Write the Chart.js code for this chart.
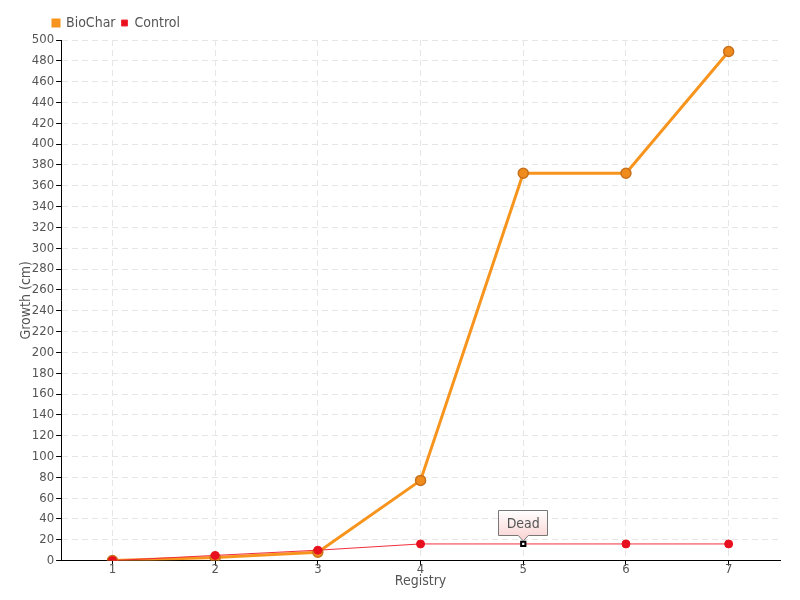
<!DOCTYPE html>
<html>
<head>
<meta charset="utf-8">
<script src="https://cdn.jsdelivr.net/npm/chart.js@4"></script>
<style>
  html, body { margin: 0; padding: 0; background: #fff; }
  #wrap { width: 800px; height: 600px; }
</style>
</head>
<body>
<div id="wrap"><canvas id="growthChart" width="800" height="600"></canvas></div>
<script>
const registry = ['1', '2', '3', '4', '5', '6', '7'];
const bioChar = [0, 3, 8, 77, 372, 372, 489];
const control = [0, 5, 10, 16, 16, 16, 16];
const deadIndex = 4;
const deadLabel = 'Dead';

const FONT = "'DejaVu Sans Condensed', 'Liberation Sans Narrow', sans-serif";
const TEXT = '#555';

// callout box over the control point where the plant died
const deadNote = {
    id: 'deadNote',
    afterDatasetsDraw(chart) {
        const meta = chart.getDatasetMeta(0);
        const pt = meta.data[deadIndex];
        if (!pt) return;
        const ctx = chart.ctx;
        const w = 50, h = 26;
        const x = Math.round(pt.x - w / 2), y = Math.round(pt.y - 8 - h);
        ctx.save();
        const g = ctx.createLinearGradient(0, y, 0, y + h);
        g.addColorStop(0, '#ffffff');
        g.addColorStop(1, '#fbd8d8');
        ctx.fillStyle = g;
        ctx.strokeStyle = '#777';
        ctx.lineWidth = 1;
        ctx.beginPath();
        ctx.moveTo(x + 0.5, y + 0.5);
        ctx.lineTo(x + w - 0.5, y + 0.5);
        ctx.lineTo(x + w - 0.5, y + h - 0.5);
        ctx.lineTo(pt.x + 5, y + h - 0.5);
        ctx.lineTo(pt.x, y + h + 5);
        ctx.lineTo(pt.x - 5, y + h - 0.5);
        ctx.lineTo(x + 0.5, y + h - 0.5);
        ctx.closePath();
        ctx.fill();
        ctx.stroke();
        ctx.fillStyle = TEXT;
        ctx.font = '14px ' + FONT;
        ctx.textAlign = 'center';
        ctx.textBaseline = 'middle';
        ctx.fillText(deadLabel, pt.x, y + h / 2 + 1);
        ctx.restore();
    }
};

// push the legend to the right so it starts near the y axis
const legendShift = {
    id: 'legendShift',
    afterLayout(chart) {
        if (chart.legend) {
            chart.legend.left += 34;
            chart.legend.right += 34;
        }
    }
};

const ctx = document.getElementById('growthChart').getContext('2d');
new Chart(ctx, {
    type: 'line',
    data: {
        labels: registry,
        datasets: [
            {
                label: 'Control',
                data: control,
                borderColor: '#f0303c',
                borderWidth: 1,
                backgroundColor: '#e8101f',
                pointBackgroundColor: control.map((v, i) => i === deadIndex ? '#fff' : '#e8101f'),
                pointBorderColor: control.map((v, i) => i === deadIndex ? '#000' : '#e8101f'),
                pointBorderWidth: control.map((v, i) => i === deadIndex ? 2 : 1),
                pointStyle: control.map((v, i) => i === deadIndex ? 'rect' : 'circle'),
                pointRadius: control.map((v, i) => i === deadIndex ? 3 : 4),
                tension: 0
            },
            {
                label: 'BioChar',
                data: bioChar,
                borderColor: '#f7941d',
                borderWidth: 3,
                backgroundColor: '#f7941d',
                pointBackgroundColor: '#f08c1e',
                pointBorderColor: '#c8701a',
                pointBorderWidth: 1.5,
                pointRadius: 5,
                tension: 0
            }
        ]
    },
    options: {
        responsive: false,
        animation: false,
        layout: { padding: { left: 13, right: 20, top: 10, bottom: 10 } },
        plugins: {
            tooltip: { enabled: false },
            legend: {
                position: 'top',
                align: 'start',
                reverse: true,
                labels: {
                    boxWidth: 6,
                    boxHeight: 6,
                    padding: 6,
                    color: TEXT,
                    font: { family: FONT, size: 14 }
                }
            }
        },
        scales: {
            x: {
                offset: true,
                border: { color: '#000', width: 1, dash: [6, 4] },
                grid: {
                    offset: false,
                    color: '#e6e6e6',
                    tickColor: '#000',
                    tickLength: 5,
                    tickBorderDash: [0, 0]
                },
                ticks: { color: TEXT, font: { family: FONT, size: 13 }, padding: -4 },
                title: { display: true, text: 'Registry', color: TEXT, font: { family: FONT, size: 14 }, padding: 0 }
            },
            y: {
                min: 0,
                max: 500,
                border: { color: '#000', width: 1, dash: [6, 4] },
                grid: {
                    color: '#e6e6e6',
                    tickColor: '#000',
                    tickLength: 5,
                    tickBorderDash: [0, 0]
                },
                ticks: { stepSize: 20, color: TEXT, font: { family: FONT, size: 13 }, padding: 2 },
                title: { display: true, text: 'Growth (cm)', color: TEXT, font: { family: FONT, size: 14 }, padding: { top: 5, bottom: -5 } }
            }
        }
    },
    plugins: [deadNote, legendShift]
});
</script>
</body>
</html>
